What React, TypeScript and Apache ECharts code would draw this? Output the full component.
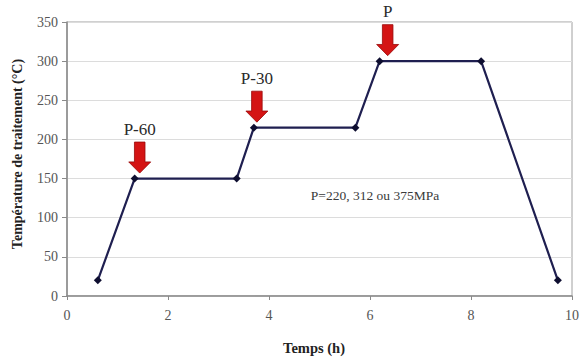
import React, { useEffect, useRef } from "react";
import * as echarts from "echarts";

const timeH = [0.61, 1.34, 3.36, 3.7, 5.71, 6.19, 8.2, 9.72];
const tempC = [20, 150, 150, 215, 215, 300, 300, 20];
const arrowLabels = ["P-60", "P-30", "P"];
const arrowTime = [1.44, 3.76, 6.35];
const arrowTemp = [150, 215, 300];
const noteText = "P=220, 312 ou 375MPa";
const noteTime = 6.1;
const noteTemp = 128;
const xTicks = [0, 2, 4, 6, 8, 10];
const yTicks = [0, 50, 100, 150, 200, 250, 300, 350];

const FONT = "Liberation Serif";
const ARROW = "path://M2.6,0 L7.4,0 L7.4,6.4 L10,6.4 L5,10 L0,6.4 L2.6,6.4 Z";

export default function App() {
  const ref = useRef<HTMLDivElement>(null);
  useEffect(() => {
    document.body.style.margin = "0";
    const chart = echarts.init(ref.current!, null, { renderer: "svg" });
    chart.setOption({
      animation: false,
      backgroundColor: "#ffffff",
      grid: {
        left: 67,
        right: 9,
        top: 22,
        bottom: 63,
        show: true,
        borderColor: "#a0a0a0",
        borderWidth: 1,
      },
      xAxis: {
        type: "value",
        min: xTicks[0],
        max: xTicks[xTicks.length - 1],
        interval: 2,
        axisLine: { show: true, onZero: false, lineStyle: { color: "#8a8a8a", width: 1.5 } },
        axisTick: { show: true, inside: false, length: 4, lineStyle: { color: "#8a8a8a" } },
        splitLine: { show: false },
        axisLabel: { color: "#555", fontFamily: FONT, fontSize: 14, margin: 12 },
      },
      yAxis: {
        type: "value",
        min: yTicks[0],
        max: yTicks[yTicks.length - 1],
        interval: 50,
        axisLine: { show: true, lineStyle: { color: "#8a8a8a", width: 1.5 } },
        axisTick: { show: true, inside: false, length: 5, lineStyle: { color: "#8a8a8a" } },
        splitLine: { show: true, lineStyle: { color: "#dcdcdc", width: 1 } },
        axisLabel: { color: "#555", fontFamily: FONT, fontSize: 14, margin: 9 },
      },
      graphic: [
        {
          type: "text",
          x: 17,
          y: 154,
          rotation: Math.PI / 2,
          style: {
            text: "Température de traitement (°C)",
            fontFamily: FONT,
            fontSize: 14,
            fontWeight: "bold",
            fill: "#222",
            textAlign: "center",
            textVerticalAlign: "middle",
          },
        },
        {
          type: "text",
          x: 314,
          y: 348,
          style: {
            text: "Temps (h)",
            fontFamily: FONT,
            fontSize: 14.5,
            fontWeight: "bold",
            fill: "#222",
            textAlign: "center",
            textVerticalAlign: "middle",
          },
        },
      ],
      series: [
        {
          type: "line",
          data: timeH.map((t, i) => [t, tempC[i]]),
          symbol: "diamond",
          symbolSize: 8,
          itemStyle: { color: "#0e0e30" },
          lineStyle: { color: "#1f1f50", width: 2.2 },
          z: 3,
          markPoint: {
            silent: true,
            z: 5,
            data: [
              ...arrowLabels.map((lab, i) => ({
                coord: [arrowTime[i], arrowTemp[i]],
                symbol: ARROW,
                symbolSize: [22, 31],
                symbolKeepAspect: false,
                symbolOffset: [0, -21],
                itemStyle: { color: "#d41414", borderColor: "#9a0a0a", borderWidth: 0.8 },
                label: {
                  show: true,
                  formatter: lab,
                  position: "top",
                  distance: 4,
                  fontFamily: FONT,
                  fontSize: 17,
                  color: "#2a2a2a",
                },
              })),
              {
                coord: [noteTime, noteTemp],
                symbol: "rect",
                symbolSize: 1,
                itemStyle: { color: "rgba(0,0,0,0)" },
                label: {
                  show: true,
                  formatter: noteText,
                  position: "inside",
                  fontFamily: FONT,
                  fontSize: 13.5,
                  color: "#3a3a3a",
                },
              },
            ],
          },
        },
      ],
    });
    return () => chart.dispose();
  }, []);
  return <div ref={ref} style={{ width: 582, height: 359 }} />;
}
